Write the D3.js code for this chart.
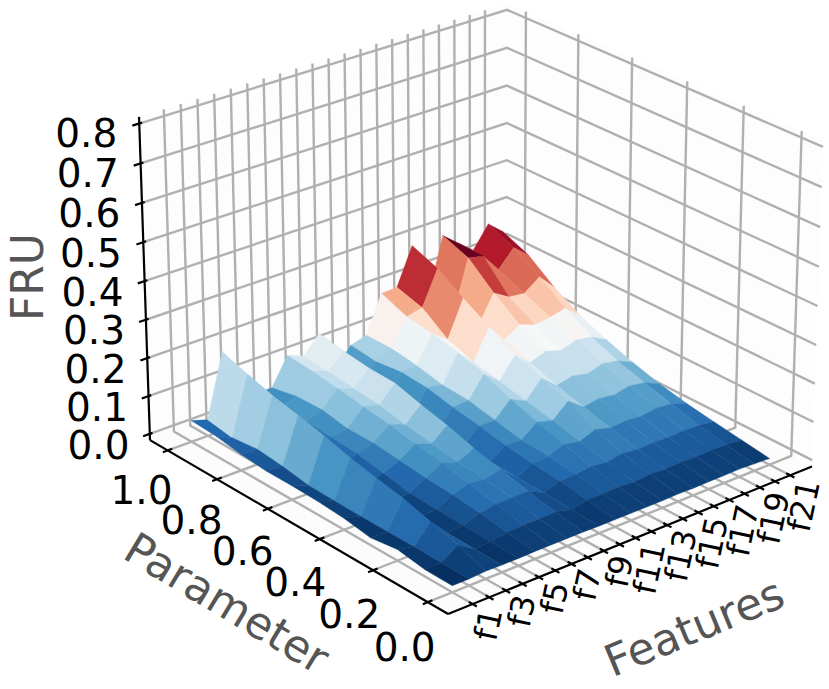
<!DOCTYPE html>
<html><head><meta charset="utf-8">
<style>html,body{margin:0;padding:0;background:#fff}svg{display:block}text{font-family:"DejaVu Sans",sans-serif}</style>
<script src="https://cdn.jsdelivr.net/npm/d3@7"></script></head>
<body><svg id="c" width="829" height="689"></svg>
<script>
// Features (x), one entry per column of the surface
const features = d3.range(1,22);
const featureLabels = ["f1","","f3","","f5","","f7","","f9","","f11","","f13","","f15","","f17","","f19","","f21"];
// Parameter (y), one entry per row
const parameters = [0,0.1,0.2,0.3,0.4,0.5,0.6,0.7,0.8,0.9,1.0];
const parameterTicks = [0,0.2,0.4,0.6,0.8,1.0];
const fruTicks = [0,0.1,0.2,0.3,0.4,0.5,0.6,0.7,0.8];
// FRU values: one array per feature, ordered by parameter 0.0 .. 1.0
const f1  = [.000,.001,.012,.002,.013,.018,.020,.020,.026,.036,.040];
const f2  = [.000,.001,.002,.002,.002,.003,.005,.016,.023,.016,.026];
const f3  = [.003,.030,.050,.070,.083,.098,.117,.133,.148,.168,.190];
const f4  = [.002,.003,.005,.008,.010,.015,.020,.025,.030,.035,.040];
const f5  = [.002,.005,.008,.010,.013,.026,.040,.045,.050,.050,.050];
const f6  = [.003,.012,.022,.031,.036,.044,.052,.052,.065,.063,.050];
const f7  = [.003,.014,.030,.045,.060,.072,.085,.094,.105,.115,.121];
const f8  = [.003,.014,.030,.040,.046,.056,.068,.083,.090,.098,.104];
const f9  = [.003,.016,.030,.048,.066,.088,.105,.125,.128,.137,.149];
const f10 = [.002,.005,.010,.012,.015,.018,.020,.020,.025,.030,.040];
const f11 = [.002,.014,.024,.032,.042,.055,.068,.083,.088,.080,.088];
const f12 = [.002,.014,.026,.036,.040,.055,.070,.075,.090,.100,.100];
const f13 = [.002,.016,.030,.050,.072,.095,.125,.145,.160,.170,.198];
const f14 = [.002,.012,.026,.042,.060,.075,.090,.105,.130,.180,.200];
const f15 = [.003,.016,.033,.058,.096,.120,.145,.185,.225,.270,.297];
const f16 = [.002,.014,.028,.046,.065,.085,.110,.135,.140,.130,.140];
const f17 = [.003,.016,.030,.050,.072,.095,.125,.160,.210,.270,.296];
const f18 = [.003,.014,.028,.046,.066,.086,.112,.145,.185,.260,.262];
const f19 = [.004,.016,.030,.052,.075,.098,.125,.150,.180,.210,.228];
const f20 = [.002,.014,.028,.048,.068,.090,.118,.160,.210,.255,.285];
const f21 = [.000,.011,.022,.034,.050,.071,.097,.126,.168,.220,.250];
const fru = [f1,f2,f3,f4,f5,f6,f7,f8,f9,f10,f11,f12,f13,f14,f15,f16,f17,f18,f19,f20,f21];
// RdBu_r colormap stops
const rdbu = ["#053061","#2166ac","#4393c3","#92c5de","#d1e5f0","#f7f7f7","#fddbc7","#f4a582","#d6604d","#b2182b","#67001f"];

// Scales map data to the unit cube (limits as autoscaled by the original)
const sx = d3.scaleLinear().domain([0,22]).range([0,1]);
const sy = d3.scaleLinear().domain([-0.05,1.05]).range([0,1]);
const sz = d3.scaleLinear().domain([0,0.8]).range([0,1]);
const LO = -1/48, HI = 49/48;

// Perspective camera
const elev = 25*Math.PI/180, azim = -130*Math.PI/180, dist = 10, K = 4585, CX = 479.1, CY = 293.5, ZASPECT = 0.75;
const ce=Math.cos(elev), se=Math.sin(elev), ca=Math.cos(azim), sa=Math.sin(azim);
function cam(X,Y,Z){
  const px=X-.5, py=Y-.5, pz=(Z-.5)*ZASPECT;
  const u=-sa*px+ca*py;
  const v=-se*ca*px-se*sa*py+ce*pz;
  const w=-ce*ca*px-ce*sa*py-se*pz;
  const s=K/(dist+w);
  return [CX+u*s, CY-v*s, w];
}
const svg=d3.select("#c");
const line=d3.line();
const P=(X,Y,Z)=>cam(X,Y,Z).slice(0,2);

// panes
const paneG=svg.append("g");
paneG.append("path").attr("d",line([P(LO,HI,LO),P(HI,HI,LO),P(HI,HI,HI),P(LO,HI,HI)])+"Z").attr("fill","#fdfdfd");
paneG.append("path").attr("d",line([P(HI,LO,LO),P(HI,HI,LO),P(HI,HI,HI),P(HI,LO,HI)])+"Z").attr("fill","#fdfdfd");
paneG.append("path").attr("d",line([P(LO,LO,LO),P(HI,LO,LO),P(HI,HI,LO),P(LO,HI,LO)])+"Z").attr("fill","#fcfcfc");

// grid
const gridG=svg.append("g").attr("fill","none").attr("stroke","#b0b0b0").attr("stroke-width",2.4).attr("stroke-linejoin","miter");
features.forEach(f=>{const X=sx(f);gridG.append("path").attr("d",line([P(X,LO,LO),P(X,HI,LO),P(X,HI,HI)]));});
parameterTicks.forEach(p=>{const Y=sy(p);gridG.append("path").attr("d",line([P(LO,Y,LO),P(HI,Y,LO),P(HI,Y,HI)]));});
fruTicks.forEach(z=>{const Z=sz(z);gridG.append("path").attr("d",line([P(LO,HI,Z),P(HI,HI,Z),P(HI,LO,Z)]));});

// axes lines & ticks
const axG=svg.append("g").attr("fill","none").attr("stroke","#000").attr("stroke-width",2.2);
axG.append("path").attr("d",line([P(LO,LO,LO),P(HI,LO,LO)]));
axG.append("path").attr("d",line([P(LO,LO,LO),P(LO,HI,LO)]));
axG.append("path").attr("d",line([P(LO,HI,LO),P(LO,HI,HI)]));
const tIn=.0125,tOut=.0135;
features.forEach(f=>{const X=sx(f);axG.append("path").attr("d",line([P(X,LO-tOut,LO),P(X,LO+tIn,LO)]));});
parameterTicks.forEach(p=>{const Y=sy(p);axG.append("path").attr("d",line([P(LO-tOut,Y,LO),P(LO+tIn,Y,LO)]));});
fruTicks.forEach(z=>{const Z=sz(z);axG.append("path").attr("d",line([P(LO-tOut-.005,HI,Z),P(LO+tIn-.005,HI,Z)]));});

// surface
const faces=[];
for(let i=0;i<features.length-1;i++)for(let j=0;j<parameters.length-1;j++){
  const pts=[[i,j],[i+1,j],[i+1,j+1],[i,j+1]].map(([a,b])=>[sx(features[a]),sy(parameters[b]),sz(fru[a][b])]);
  const c=pts.map(p=>cam(...p));
  faces.push({poly:c.map(p=>p.slice(0,2)),depth:d3.mean(c,p=>p[2]),val:d3.mean([[i,j],[i+1,j],[i+1,j+1],[i,j+1]],([a,b])=>fru[a][b])});
}
const ext=d3.extent(faces,f=>f.val);
const color=d3.scaleLinear().domain(d3.range(11).map(k=>ext[0]+(ext[1]-ext[0])*k/10)).range(rdbu);
faces.sort((a,b)=>b.depth-a.depth);
svg.append("g").selectAll("path").data(faces).join("path")
  .attr("d",f=>line(f.poly)+"Z").attr("fill",f=>color(f.val)).attr("stroke",f=>color(f.val)).attr("stroke-width",.4);

// tick labels
const txt=svg.append("g").attr("fill","#000");
fruTicks.forEach(z=>{const p=P(LO-.121,HI+.027,sz(z));
  txt.append("text").attr("x",p[0]).attr("y",p[1]).attr("text-anchor","middle").attr("dominant-baseline","central").attr("font-size",39).text(z.toFixed(1));});
parameterTicks.forEach(v=>{const p=P(LO-.159,sy(v)-.119,LO);
  txt.append("text").attr("x",p[0]).attr("y",p[1]).attr("text-anchor","middle").attr("dominant-baseline","central").attr("font-size",39).text(v.toFixed(1));});
features.forEach((f,i)=>{ if(!featureLabels[i])return; const p=P(sx(f),LO,LO);
  txt.append("text").attr("transform",`translate(${p[0]+19},${p[1]+5}) rotate(-78)`).attr("text-anchor","end").attr("dominant-baseline","central").attr("font-size",32).text(featureLabels[i]);});

// axis titles
const lab=svg.append("g").attr("fill","#555").attr("font-size",44).attr("text-anchor","middle").attr("dominant-baseline","central");
lab.append("text").attr("transform","translate(27,277) rotate(-90)").text("FRU");
lab.append("text").attr("transform","translate(227,603) rotate(31)").text("Parameter");
lab.append("text").attr("transform","translate(694,627) rotate(-22.5)").text("Features");
</script></body></html>
